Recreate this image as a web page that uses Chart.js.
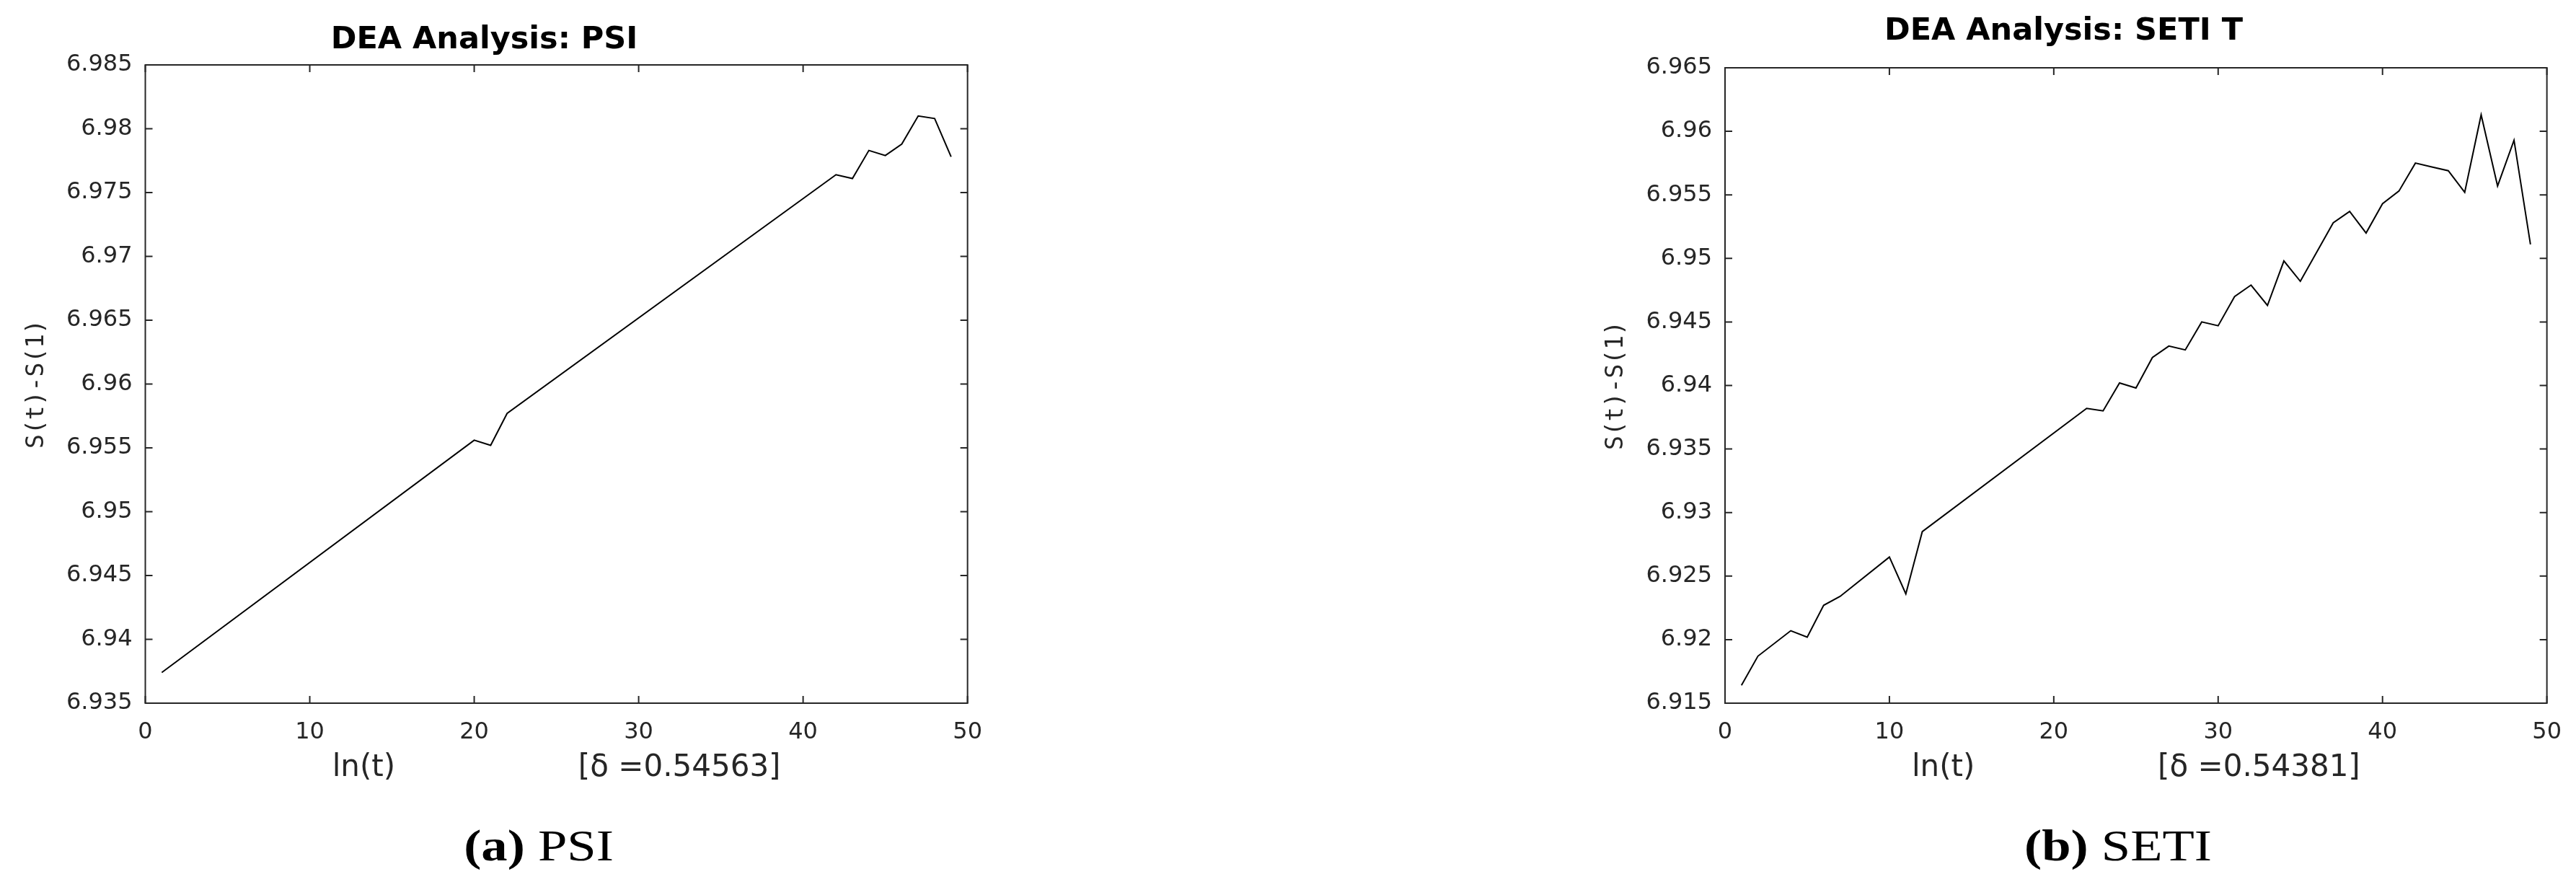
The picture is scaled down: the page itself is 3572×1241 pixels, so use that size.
<!DOCTYPE html>
<html>
<head>
<meta charset="utf-8">
<script src="https://cdn.jsdelivr.net/npm/chart.js@4"></script>
<style>
  html, body { margin: 0; padding: 0; background: #fff; }
  body { width: 3572px; height: 1241px; position: relative; overflow: hidden; }
  canvas { position: absolute; top: 0; }
  #c1 { left: 0px; }
  #c2 { left: 2190px; }
  .cap { position: absolute; top: 1141px; width: 600px; text-align: center;
         font-family: 'Liberation Serif', serif; font-size: 62px; line-height: 1; color: #000;
         transform: scaleX(1.17); transform-origin: 50% 50%; white-space: nowrap; }
  .cap b { font-weight: bold; }
</style>
</head>
<body>
<canvas id="c1" width="1383" height="1110"></canvas>
<canvas id="c2" width="1383" height="1110"></canvas>
<div class="cap" style="left:447px"><b>(a)</b> PSI</div>
<div class="cap" style="left:2637px"><b>(b)</b> SETI</div>
<script>
// ---- data ----
const titles = ['DEA Analysis: PSI', 'DEA Analysis: SETI T'];
const yLabel = 'S(t)-S(1)';
const xLabelPSI = 'ln(t)' + ' '.repeat(19) + '[\u03B4 =0.54563]';
const xLabelSETI = 'ln(t)' + ' '.repeat(19) + '[\u03B4 =0.54381]';

const xTicks = ['0', '10', '20', '30', '40', '50'];
const yTicksPSI = ['6.935', '6.94', '6.945', '6.95', '6.955', '6.96', '6.965', '6.97', '6.975', '6.98', '6.985'];
const yTicksSETI = ['6.915', '6.92', '6.925', '6.93', '6.935', '6.94', '6.945', '6.95', '6.955', '6.96', '6.965'];

const tPSI = [1, 20, 21, 22, 42, 43, 44, 45, 46, 47, 48, 49];
const sPSI = [6.9374, 6.9556, 6.9552, 6.9577, 6.9764, 6.9761, 6.9783, 6.9779, 6.9788, 6.9810, 6.9808, 6.9778];

const tSETI = [1, 2, 4, 5, 6, 7, 10, 11, 12, 22, 23, 24, 25, 26, 27, 28, 29, 30, 31, 32, 33, 34, 35, 36, 37, 38, 39, 40, 41, 42, 43, 44, 45, 46, 47, 48, 49];
const sSETI = [6.9164, 6.9187, 6.9207, 6.9202, 6.9227, 6.9234, 6.9265, 6.9236, 6.9285, 6.9382, 6.9380, 6.9402, 6.9398, 6.9422, 6.9431, 6.9428, 6.9450, 6.9447, 6.9470, 6.9479, 6.9463, 6.9498, 6.9482, 6.9505, 6.9528, 6.9537, 6.9520, 6.9543, 6.9553, 6.9575, 6.9572, 6.9569, 6.9552, 6.9613, 6.9557, 6.9593, 6.9511];

// ---- drawing ----
const boxTicks = {
  id: 'boxTicks',
  afterDatasetsDraw(chart) {
    const { ctx, chartArea: a, scales: { x, y } } = chart;
    ctx.save();
    ctx.strokeStyle = '#262626';
    ctx.lineWidth = 2;
    ctx.strokeRect(a.left, a.top, a.right - a.left, a.bottom - a.top);
    ctx.beginPath();
    x.ticks.forEach(t => {
      const p = x.getPixelForValue(t.value);
      ctx.moveTo(p, a.bottom); ctx.lineTo(p, a.bottom - 10);
      ctx.moveTo(p, a.top); ctx.lineTo(p, a.top + 10);
    });
    y.ticks.forEach(t => {
      const p = y.getPixelForValue(t.value);
      ctx.moveTo(a.left, p); ctx.lineTo(a.left + 10, p);
      ctx.moveTo(a.right, p); ctx.lineTo(a.right - 10, p);
    });
    ctx.stroke();
    ctx.restore();
  }
};

function makeChart(id, title, xs, ys, yTicks, xLabel, yAxisWidth, chartTop, titlePadTop) {
  const titleLH = 43 * 1.2;
  return new Chart(document.getElementById(id), {
    type: 'line',
    data: {
      datasets: [{
        data: xs.map((t, i) => ({ x: t, y: ys[i] })),
        borderColor: '#000',
        borderWidth: 2,
        pointRadius: 0,
        tension: 0,
        fill: false
      }]
    },
    options: {
      responsive: false,
      animation: false,
      devicePixelRatio: 1,
      layout: { padding: { left: 0, right: 40, top: 0, bottom: 0 } },
      plugins: {
        legend: { display: false },
        tooltip: { enabled: false },
        title: {
          display: true,
          text: title,
          color: '#000',
          font: { family: 'DejaVu Sans', size: 43, weight: 'bold', lineHeight: 1.2 },
          padding: { top: titlePadTop, bottom: chartTop - titlePadTop - titleLH }
        }
      },
      scales: {
        x: {
          type: 'linear',
          min: +xTicks[0],
          max: +xTicks[xTicks.length - 1],
          afterBuildTicks: s => { s.ticks = xTicks.map(v => ({ value: +v })); },
          afterFit: s => { s.height = 1110 - 975; },
          grid: { display: false, drawTicks: false },
          border: { display: false },
          ticks: {
            color: '#262626',
            padding: 21,
            maxRotation: 0,
            font: { family: 'DejaVu Sans', size: 32, lineHeight: 1.2 },
            callback: (v, i) => xTicks[i]
          },
          title: {
            display: true,
            text: xLabel,
            color: '#262626',
            font: { family: 'DejaVu Sans', size: 42, lineHeight: 1.2 },
            padding: { top: 0, bottom: 20 }
          }
        },
        y: {
          type: 'linear',
          min: +yTicks[0],
          max: +yTicks[yTicks.length - 1],
          afterBuildTicks: s => { s.ticks = yTicks.map(v => ({ value: +v })); },
          afterFit: s => { s.width = yAxisWidth; },
          grid: { display: false, drawTicks: false },
          border: { display: false },
          ticks: {
            color: '#262626',
            padding: 18,
            font: { family: 'DejaVu Sans', size: 32, lineHeight: 1.2 },
            callback: (v, i) => yTicks[i]
          },
          title: {
            display: true,
            text: yLabel,
            color: '#262626',
            font: { family: 'DejaVu Sans Mono', size: 33, lineHeight: 1.2 },
            padding: { top: 32, bottom: 0 }
          }
        }
      }
    },
    plugins: [boxTicks]
  });
}

makeChart('c1', titles[0], tPSI, sPSI, yTicksPSI, xLabelPSI, 201.5, 90, 30.5);
makeChart('c2', titles[1], tSETI, sSETI, yTicksSETI, xLabelSETI, 202, 94, 18);
</script>
</body>
</html>
